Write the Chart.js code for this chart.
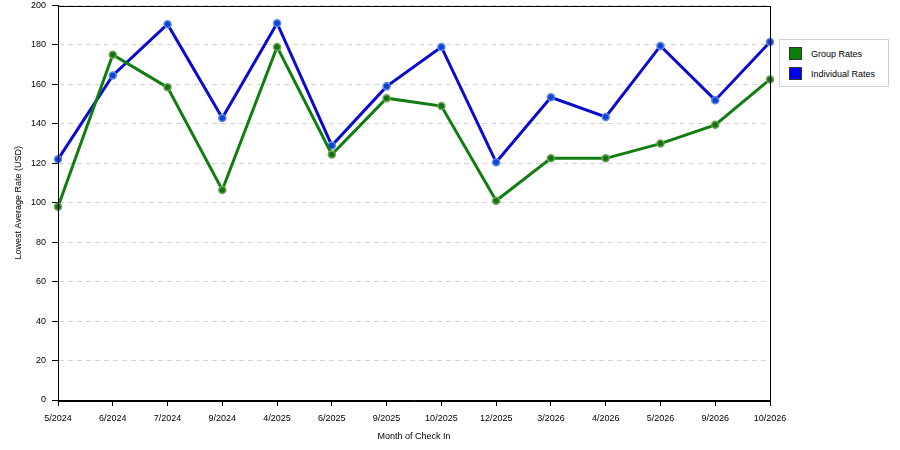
<!DOCTYPE html>
<html><head><meta charset="utf-8">
<script src="https://cdn.jsdelivr.net/npm/chart.js@4"></script>
<style>
html,body{margin:0;padding:0;background:#fff;}
#wrap{position:relative;width:900px;height:450px;}
#legend{position:absolute;left:779px;top:39px;width:110px;height:48px;border:1px solid #d0d0d0;background:#fff;font-family:"Liberation Sans",Arial,sans-serif;font-size:9px;color:#000;box-sizing:border-box;}
.li{position:absolute;left:9px;display:flex;align-items:center;}
.sw{width:13px;height:13px;box-sizing:border-box;border:1px solid #333;margin-right:9px;}
</style></head>
<body><div id="wrap"><canvas id="c" width="900" height="450"></canvas>
<div id="legend">
<div class="li" style="top:7px"><div class="sw" style="background:#0a800a"></div>Group Rates</div>
<div class="li" style="top:27px"><div class="sw" style="background:#0000f0"></div>Individual Rates</div>
</div></div>
<script>
const categories = ["5/2024","6/2024","7/2024","9/2024","4/2025","6/2025","9/2025","10/2025","12/2025","3/2026","4/2026","5/2026","9/2026","10/2026"];
const groupRates = [98,175,158.5,106.5,179,124.5,153,149,101,122.5,122.5,130,139.5,162.5];
const individualRates = [122,164.5,190.5,143,191,129,159,179,120.5,153.5,143.5,179.5,152,181.5];
const yTicks = [0,20,40,60,80,100,120,140,160,180,200];

const boxPlugin = {
  id:'box',
  afterDraw(chart){
    const a = chart.chartArea, ctx = chart.ctx;
    ctx.save();
    ctx.strokeStyle = '#000';
    ctx.lineWidth = 1;
    ctx.strokeRect(Math.round(a.left)+0.5, Math.round(a.top)+0.5, Math.round(a.right-a.left), Math.round(a.bottom-a.top));
    ctx.restore();
  }
};
const font = {family:'"Liberation Sans", Arial, sans-serif', size:9};
new Chart(document.getElementById('c'), {
  type:'line',
  data:{
    labels:categories,
    datasets:[
      {label:'Group Rates', data:groupRates, borderColor:'#117d11', backgroundColor:'#1f7a1f', borderWidth:3,
       pointRadius:3.5, pointBorderWidth:1.5, pointBorderColor:'#6aa84f', pointBackgroundColor:'#1a6e1a', tension:0},
      {label:'Individual Rates', data:individualRates, borderColor:'#0b0bd0', backgroundColor:'#1f4fd0', borderWidth:3,
       pointRadius:3.5, pointBorderWidth:1.5, pointBorderColor:'#5a8ae8', pointBackgroundColor:'#1240d0', tension:0}
    ]
  },
  options:{
    responsive:false, animation:false,
    layout:{padding:{top:5,right:130,left:0,bottom:0}},
    plugins:{legend:{display:false}, tooltip:{enabled:false}},
    scales:{
      x:{
        offset:false,
        afterFit(s){ s.height = 50; },
        grid:{drawOnChartArea:false, color:'#000', tickLength:6, tickColor:'#000'},
        border:{color:'#000'},
        ticks:{font, color:'#000', maxRotation:0, autoSkip:false, padding:7},
        title:{display:true, text:'Month of Check In', font, color:'#000', padding:{top:8,bottom:8}}
      },
      y:{
        min:0, max:200,
        afterFit(s){ s.width = 58; s.paddingTop = 0; s.paddingBottom = 0; },
        afterBuildTicks(s){ s.ticks = yTicks.map(v=>({value:v})); },
        grid:{color:'#d4d4d4', tickLength:6, tickColor:'#000', tickBorderDash:[]},
        border:{color:'#000', dash:[5,4]},
        ticks:{font, color:'#000', padding:6},
        title:{display:true, text:'Lowest Average Rate (USD)', font, color:'#000', padding:{top:13,bottom:0}}
      }
    }
  },
  plugins:[boxPlugin]
});
</script></body></html>
